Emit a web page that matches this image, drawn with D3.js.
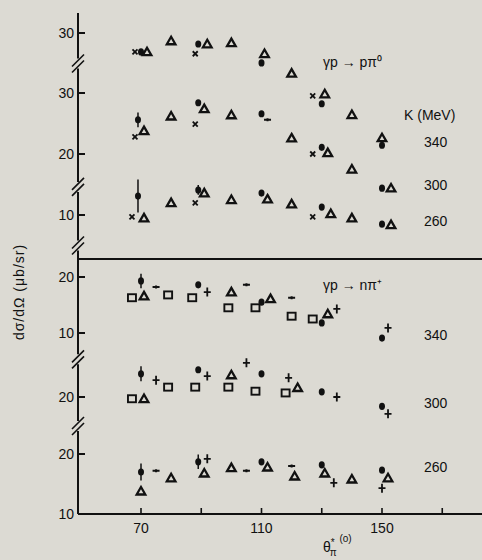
<!DOCTYPE html>
<html>
<head>
<meta charset="utf-8">
<script src="https://cdn.jsdelivr.net/npm/d3@7"></script>
<style>
  body { margin: 0; background: #dcdad3; }
  svg { display: block; }
  text { font-family: "Liberation Sans", Arial, sans-serif; fill: #111; }
</style>
</head>
<body>
<svg id="chart" width="482" height="560"></svg>
<script>
// marker codes: t = triangle, s = square, o = filled dot, x = cross, p = plus, d = dash
// each point: [marker, angle (deg), dsigma/dOmega (ub/sr), error]
var pi0_340 = [
  ["x", 68, 26.9], ["o", 70, 26.9], ["t", 72, 26.9], ["t", 80, 28.7],
  ["x", 88, 26.6], ["o", 89, 28.2], ["t", 92, 28.2], ["t", 100, 28.4],
  ["o", 110, 25.1], ["t", 111, 26.6], ["t", 120, 23.4], ["x", 127, 19.7],
  ["t", 131, 20.0], ["o", 130, 18.4], ["t", 140, 16.6], ["t", 150, 12.8], ["o", 150, 11.6]
];
var pi0_300 = [
  ["o", 69, 25.6, 1.2], ["t", 71, 23.8], ["x", 68, 22.8], ["t", 80, 26.2],
  ["o", 89, 28.4], ["t", 91, 27.4], ["x", 88, 24.9], ["t", 100, 26.4],
  ["o", 110, 26.6], ["d", 112, 25.6], ["t", 120, 22.6], ["o", 130, 21.1],
  ["x", 127, 20.0], ["t", 132, 20.2], ["t", 140, 17.5], ["o", 150, 14.4], ["t", 153, 14.4]
];
var pi0_260 = [
  ["o", 69, 13.1, 2.7], ["x", 67, 9.7], ["t", 71, 9.5], ["t", 80, 12.0],
  ["o", 89, 14.1, 0.8], ["t", 91, 13.6], ["x", 88, 12.0], ["t", 100, 12.5],
  ["o", 110, 13.6], ["t", 112, 12.6], ["t", 120, 11.8], ["o", 130, 11.3],
  ["x", 127, 9.7], ["t", 133, 10.2], ["t", 140, 9.5], ["o", 150, 8.5], ["t", 153, 8.4]
];
var pip_340 = [
  ["o", 70, 19.3, 1.3], ["s", 67, 16.3], ["t", 71, 16.6], ["d", 75, 18.2],
  ["s", 79, 16.8], ["s", 87, 16.3], ["o", 89, 18.6], ["p", 92, 17.3],
  ["t", 100, 17.3], ["d", 105, 18.6], ["s", 99, 14.5], ["s", 108, 14.5],
  ["o", 110, 15.5], ["t", 113, 16.1], ["d", 120, 16.3], ["s", 120, 13.0],
  ["s", 127, 12.5], ["o", 130, 11.8], ["t", 132, 13.4], ["p", 135, 14.3],
  ["o", 150, 9.1], ["p", 152, 10.9]
];
var pip_300 = [
  ["o", 70, 24.0, 1.3], ["p", 75, 22.9], ["s", 67, 19.7], ["t", 71, 19.7],
  ["s", 79, 21.7], ["s", 88, 21.7], ["o", 89, 24.7], ["p", 92, 23.6],
  ["t", 100, 23.8], ["s", 99, 21.7], ["p", 105, 25.9], ["s", 108, 21.0],
  ["o", 110, 24.0], ["p", 119, 23.3], ["s", 118, 20.7], ["t", 122, 21.6],
  ["o", 130, 20.9], ["p", 135, 20.0], ["o", 150, 18.4], ["p", 152, 17.1]
];
var pip_260 = [
  ["o", 70, 17.0, 1.4], ["d", 75, 17.2], ["t", 70, 13.8], ["t", 80, 16.0],
  ["o", 89, 18.7, 1.2], ["p", 92, 19.2], ["t", 91, 16.8], ["t", 100, 17.7],
  ["d", 105, 17.2], ["o", 110, 18.7], ["t", 112, 17.8], ["d", 120, 18.0],
  ["t", 121, 16.3], ["o", 130, 18.2], ["t", 131, 16.8], ["p", 134, 15.2],
  ["t", 140, 15.8], ["o", 150, 17.3], ["t", 152, 16.0], ["p", 150, 14.3]
];
var xTicks = [70, 90, 110, 130, 150, 170];
var xLabels = [70, 110, 150];
var energies = ["340", "300", "260"];

var svg = d3.select("#chart");
var axisX = 78;
var axisBottom = 514;
var dividerY = 259;

var x = d3.scaleLinear().domain([70, 150]).range([141, 382]);

// one vertical scale per energy row, each row has its own shifted zero
var rows = [
  { data: pi0_340, y: d3.scaleLinear().domain([30, 20]).range([33, 94]), ticks: [30], brk: 25, label: 0 },
  { data: pi0_300, y: d3.scaleLinear().domain([30, 20]).range([93, 154]), ticks: [30, 20], brk: 14.6, label: 1 },
  { data: pi0_260, y: d3.scaleLinear().domain([20, 10]).range([154, 215]), ticks: [10], brk: 5, label: 2 },
  { data: pip_340, y: d3.scaleLinear().domain([20, 10]).range([277, 333]), ticks: [20, 10], brk: 5.3, label: 0 },
  { data: pip_300, y: d3.scaleLinear().domain([20, 10]).range([397, 455]), ticks: [20], brk: 15, label: 1 },
  { data: pip_260, y: d3.scaleLinear().domain([20, 10]).range([454, 514]), ticks: [20, 10], brk: null, label: 2 }
];

// axes
var breaks = rows.filter(function(r) { return r.brk != null; }).map(function(r) { return r.y(r.brk); });
var segs = [13].concat(breaks);
var ends = breaks.concat([axisBottom]);
segs.forEach(function(s, i) {
  svg.append("line")
     .attr("x1", axisX).attr("x2", axisX)
     .attr("y1", i == 0 ? s : s + 5).attr("y2", i == segs.length - 1 ? ends[i] : ends[i] - 5)
     .attr("stroke", "#111").attr("stroke-width", 2);
});
breaks.forEach(function(b) {
  [-3, 3].forEach(function(o) {
    svg.append("line")
       .attr("x1", axisX - 6).attr("y1", b + o + 6)
       .attr("x2", axisX + 6).attr("y2", b + o - 6)
       .attr("stroke", "#111").attr("stroke-width", 1.6);
  });
});

svg.append("line")
   .attr("x1", axisX).attr("x2", 482)
   .attr("y1", axisBottom).attr("y2", axisBottom)
   .attr("stroke", "#111").attr("stroke-width", 2);
svg.append("line")
   .attr("x1", axisX).attr("x2", 482)
   .attr("y1", dividerY).attr("y2", dividerY)
   .attr("stroke", "#111").attr("stroke-width", 2.2);

svg.selectAll("xTicks")
   .data(xTicks)
   .enter()
   .append("line")
   .attr("x1", function(d) { return x(d); }).attr("x2", function(d) { return x(d); })
   .attr("y1", axisBottom).attr("y2", axisBottom - 6)
   .attr("stroke", "#111").attr("stroke-width", 1.6);
svg.selectAll("xLabels")
   .data(xLabels)
   .enter()
   .append("text")
   .attr("x", function(d) { return x(d); })
   .attr("y", axisBottom + 19)
   .attr("text-anchor", "middle")
   .attr("font-size", 14)
   .text(function(d) { return d; });

// y ticks per row
rows.forEach(function(r) {
  r.ticks.forEach(function(t) {
    var yy = r.y(t);
    svg.append("line")
       .attr("x1", axisX).attr("x2", axisX + 7)
       .attr("y1", yy).attr("y2", yy)
       .attr("stroke", "#111").attr("stroke-width", 2);
    svg.append("text")
       .attr("x", axisX - 4).attr("y", yy + 5)
       .attr("text-anchor", "end")
       .attr("font-size", 14)
       .text(t);
  });
});

// markers
function drawMarker(g, m, cx, cy) {
  if (m == "t") {
    g.append("path")
     .attr("d", "M" + cx + "," + (cy - 4.2) + "L" + (cx + 4.3) + "," + (cy + 3.3) + "L" + (cx - 4.3) + "," + (cy + 3.3) + "Z")
     .attr("fill", "none").attr("stroke", "#111").attr("stroke-width", 2.3);
  } else if (m == "s") {
    g.append("rect")
     .attr("x", cx - 4).attr("y", cy - 3.5).attr("width", 8).attr("height", 7)
     .attr("fill", "none").attr("stroke", "#111").attr("stroke-width", 1.9);
  } else if (m == "o") {
    g.append("ellipse")
     .attr("cx", cx).attr("cy", cy).attr("rx", 3).attr("ry", 3.6)
     .attr("fill", "#111");
  } else if (m == "x") {
    g.append("path")
     .attr("d", "M" + (cx - 2.5) + "," + (cy - 2.5) + "L" + (cx + 2.5) + "," + (cy + 2.5) +
                "M" + (cx + 2.5) + "," + (cy - 2.5) + "L" + (cx - 2.5) + "," + (cy + 2.5))
     .attr("stroke", "#111").attr("stroke-width", 1.8);
  } else if (m == "p") {
    g.append("path")
     .attr("d", "M" + (cx - 3.5) + "," + cy + "L" + (cx + 3.5) + "," + cy +
                "M" + cx + "," + (cy - 4.5) + "L" + cx + "," + (cy + 4.5))
     .attr("stroke", "#111").attr("stroke-width", 1.8);
  } else if (m == "d") {
    g.append("path")
     .attr("d", "M" + (cx - 3.5) + "," + cy + "L" + (cx + 3.5) + "," + cy +
                "M" + cx + "," + (cy - 1.5) + "L" + cx + "," + (cy + 1.5))
     .attr("stroke", "#111").attr("stroke-width", 2);
  }
}

rows.forEach(function(r) {
  var g = svg.append("g");
  r.data.forEach(function(d) {
    if (d[3]) {
      g.append("line")
       .attr("x1", x(d[1])).attr("x2", x(d[1]))
       .attr("y1", r.y(d[2] + d[3])).attr("y2", r.y(d[2] - d[3]))
       .attr("stroke", "#111").attr("stroke-width", 1.5);
    }
    drawMarker(g, d[0], x(d[1]), r.y(d[2]));
  });
  // energy label next to the filled point at 150 deg
  var last = r.data.filter(function(d) { return d[1] == 150 && d[0] == "o"; })[0];
  svg.append("text")
     .attr("x", 424)
     .attr("y", r.y(last[2]) + 2)
     .attr("font-size", 14)
     .text(energies[r.label]);
});

// titles
svg.append("text").attr("x", 323).attr("y", 67).attr("font-size", 14).text("γp → pπ⁰");
svg.append("text").attr("x", 404).attr("y", 120).attr("font-size", 14).text("K (MeV)");
svg.append("text").attr("x", 323).attr("y", 290).attr("font-size", 14).text("γp → nπ⁺");

svg.append("text")
   .attr("transform", "translate(24,292) rotate(-90)")
   .attr("text-anchor", "middle")
   .attr("font-size", 14)
   .attr("letter-spacing", 1)
   .text("dσ/dΩ (μb/sr)");

var xl = svg.append("text").attr("x", 323).attr("y", 552).attr("font-size", 14);
xl.append("tspan").text("θ");
xl.append("tspan").attr("dy", -6).attr("font-size", 10).text("*");
xl.append("tspan").attr("dx", -5).attr("dy", 10).attr("font-size", 10).text("π");
xl.append("tspan").attr("dy", -14).attr("font-size", 10).text(" (o)");
</script>
</body>
</html>
